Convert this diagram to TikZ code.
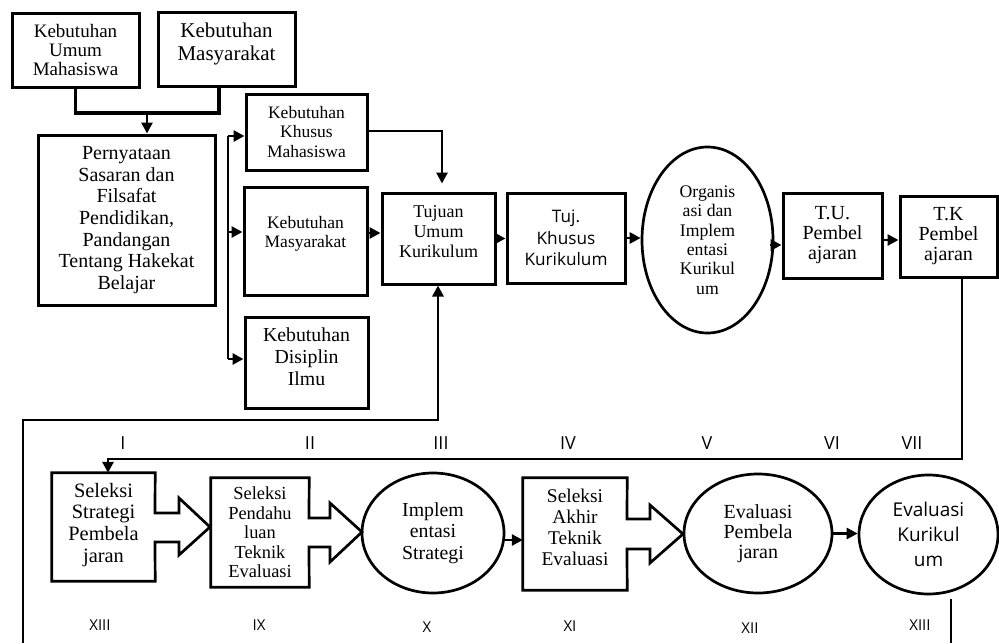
\documentclass[tikz,border=0pt]{standalone}
\usepackage{fontspec}
\setmainfont{Liberation Serif}
\newfontfamily\sansf{Open Sans}
\usetikzlibrary{arrows.meta,shapes.geometric,calc}
\begin{document}
\begin{tikzpicture}[x=1pt,y=-1pt,
  box/.style={draw, line width=3pt, align=center, inner sep=0pt},
  plainbox/.style={align=center, inner sep=0pt},
  ell/.style={ellipse, draw, line width=2.7pt, align=center, inner sep=0pt},
  conn/.style={line width=2.8pt},
  arr/.style={conn, -{Triangle[length=11pt,width=11pt]}},
  blockarrow/.style={line width=2.7pt},
  fs/.style 2 args={font=\fontsize{#1}{#2}\selectfont},
  sfs/.style 2 args={font=\sansf\fontsize{#1}{#2}\selectfont},
  rn/.style={font=\sansf\fontsize{18}{18}\selectfont, inner sep=0pt},
  rnb/.style={font=\sansf\fontsize{15}{15}\selectfont, inner sep=0pt}
]
\useasboundingbox (0,0) rectangle (999,643);

% ---- top part ----
\node[box, fs={19}{19.3}, minimum width=127, minimum height=74] (umum) at (75.5,50) {Kebutuhan\\Umum\\Mahasiswa};
\node[box, fs={21}{23}, minimum width=137, minimum height=74] (masyA) at (226.5,49) {Kebutuhan\\Masyarakat\\[-8pt]\mbox{}};
\node[box, fs={20}{21.7}, minimum width=177, minimum height=170] (pern) at (126.5,220) {Pernyataan\\Sasaran dan\\Filsafat\\Pendidikan,\\Pandangan\\Tentang Hakekat\\Belajar};
\node[box, fs={17.5}{19.5}, minimum width=121, minimum height=76] (khusus) at (306.5,132) {Kebutuhan\\Khusus\\Mahasiswa};
\node[box, fs={17.5}{18.3}, minimum width=123, minimum height=108] (masyB) at (305.5,241) {Kebutuhan\\Masyarakat\\\mbox{}};
\node[box, fs={19.8}{21.7}, minimum width=123, minimum height=91] (disiplin) at (306.5,362.5) {Kebutuhan\\Disiplin\\Ilmu\\[-10pt]\mbox{}};
\node[box, fs={18}{20}, minimum width=113, minimum height=91] (tujuan) at (438.5,238.5) {Tujuan\\Umum\\Kurikulum\\[-6pt]\mbox{}};
\node[box, sfs={17.2}{21.7}, minimum width=118, minimum height=90] (tujk) at (566,238) {Tuj.\\Khusus\\Kurikulum};
\node[ell, fs={17.7}{19.3}, minimum width=131, minimum height=186] (org) at (707.5,240) {Organis\\asi dan\\Implem\\entasi\\Kurikul\\um};
\node[box, fs={20}{20}, minimum width=99, minimum height=85] (tu) at (832.5,235.5) {T.U.\\Pembel\\ajaran};
\node[box, fs={20}{20}, minimum width=97, minimum height=81] (tk) at (948.5,236.5) {T.K\\Pembel\\ajaran};

% ---- bottom part ----
\node[plainbox, fs={20.4}{21.7}, minimum width=103, minimum height=108] (selA) at (103.5,527) {Seleksi\\Strategi\\Pembela\\jaran\\[-12.7pt]\mbox{}};
\node[plainbox, fs={18.4}{19.5}, minimum width=98, minimum height=109] (selB) at (260,532.5) {Seleksi\\Pendahu\\luan\\Teknik\\Evaluasi};
\node[ell, fs={19.8}{21.7}, minimum width=142, minimum height=120] (impl) at (433,533) {Implem\\entasi\\Strategi};
\node[plainbox, fs={19.4}{21}, minimum width=104, minimum height=112] (selC) at (575,534) {Seleksi\\Akhir\\Teknik\\Evaluasi\\[-8pt]\mbox{}};
\node[ell, fs={20}{20}, minimum width=148, minimum height=119] (evp) at (758,533.5) {Evaluasi\\Pembela\\jaran};
\node[ell, sfs={19}{25}, minimum width=139, minimum height=119] (evk) at (928.5,534.5) {Evaluasi\\Kurikul\\um};

% block arrows (box outline merged with arrow)
\draw[blockarrow] (selA.north west) -- (selA.north east) -- (155,513) -- (179,513) -- (179,498) -- (210,527) -- (179,555) -- (179,542) -- (155,542) -- (selA.south east) -- (selA.south west) -- cycle;
\draw[blockarrow] (selB.north west) -- (selB.north east) -- (309,518) -- (330,518) -- (330,503) -- (362,532) -- (330,562) -- (330,547) -- (309,547) -- (selB.south east) -- (selB.south west) -- cycle;
\draw[blockarrow] (selC.north west) -- (selC.north east) -- (627,519) -- (650,519) -- (650,505) -- (683,534) -- (650,563) -- (650,549) -- (627,549) -- (selC.south east) -- (selC.south west) -- cycle;

% ---- roman numerals ----
\node[rn] (nI) at (123,443) {I};
\node[rn] (nII) at (310,443) {II};
\node[rn] (nIII) at (441,443) {III};
\node[rn] (nIV) at (568,443) {IV};
\node[rn] (nV) at (707,443) {V};
\node[rn] (nVI) at (832,443) {VI};
\node[rn] (nVII) at (912,443) {VII};
\node[rnb] (nXIIIa) at (100,625) {XIII};
\node[rnb] (nIX) at (259,625) {IX};
\node[rnb] (nX) at (427,627) {X};
\node[rnb] (nXI) at (570,626) {XI};
\node[rnb] (nXII) at (750,628) {XII};
\node[rnb] (nXIIIb) at (920,625) {XIII};

% ---- connectors ----
\coordinate (j1) at (147,113);
\coordinate (j2) at (219,113);
\draw[conn, line width=3.6pt] (umum.south) -- (umum.south |- j1) -- (j2) -- (j2 |- masyA.south);
\draw[arr] (j1) -- (j1 |- pern.north);

\coordinate (vtop) at (228,136);
\coordinate (vmid) at (228,232);
\coordinate (vbot) at (228,359);
\draw[conn] (vtop) -- (vbot);
\draw[arr] (vtop) -- (vtop -| khusus.west);
\draw[arr] (vmid) -- (vmid -| masyB.west);
\draw[arr] (vbot) -- (vbot -| disiplin.west);

\coordinate (k1) at (442,131);
\draw[arr, shorten >=8pt] (k1 -| khusus.east) -- (k1) -- (k1 |- tujuan.north);

\coordinate (y233) at (0,233);
\draw[arr] (masyB.east |- y233) -- (tujuan.west |- y233);
\draw[arr] (tujuan.east) -- (tujk.west |- tujuan.east);
\draw[arr] (tujk.east) -- (org.west |- tujk.east);
\coordinate (y245) at (0,245);
\draw[arr] ([xshift=-4pt]org.east |- y245) -- (tu.west |- y245);
\coordinate (y240) at (0,240);
\draw[arr] (tu.east |- y240) -- (tk.west |- y240);

% loop from T.K to Seleksi Strategi
\coordinate (r1) at (962,459);
\coordinate (r2) at (108,459);
\draw[arr] (r1 |- tk.south) -- (r1) -- (r2) -- (r2 |- selA.north);

% loop from bottom into Tujuan Umum Kurikulum
\coordinate (b1) at (23,643);
\coordinate (b2) at (23,420);
\coordinate (b3) at (438,420);
\draw[arr] (b1) -- (b2) -- (b3) -- (b3 |- tujuan.south);
\coordinate (b4) at (951,643);
\draw[conn] ([yshift=-4pt]b4 |- evk.south) -- (b4);

% bottom row arrows
\coordinate (y540) at (0,540);
\draw[arr] (impl.east |- y540) -- (selC.west |- y540);
\draw[arr] (evp.east) -- (evk.west |- evp.east);
\end{tikzpicture}
\end{document}
